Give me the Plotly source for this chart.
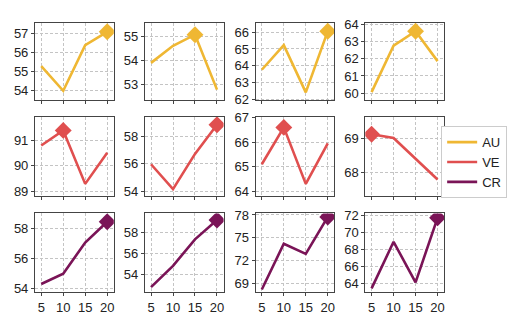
import plotly.graph_objects as go

x_vals = [5, 10, 15, 20]
x_ticks = [5, 10, 15, 20]
series_names = ["AU", "VE", "CR"]

AU = [[55.3, 54.0, 56.4, 57.1],
      [53.9, 54.62, 55.09, 52.77],
      [63.76, 65.23, 62.41, 66.06],
      [60.06, 62.75, 63.59, 61.86]]
VE = [[90.79, 91.38, 89.29, 90.51],
      [55.96, 54.16, 56.71, 58.82],
      [65.1, 66.6, 64.3, 65.95],
      [69.11, 69.0, 68.4, 67.8]]
CR = [[54.32, 55.0, 57.05, 58.42],
      [52.78, 54.83, 57.38, 59.23],
      [68.23, 74.23, 72.9, 77.74],
      [63.45, 68.9, 64.15, 71.7]]

AU_ticks = [[54, 55, 56, 57], [53, 54, 55], [62, 63, 64, 65, 66], [60, 61, 62, 63, 64]]
VE_ticks = [[89, 90, 91], [54, 56, 58], [64, 65, 66, 67], [68, 69]]
CR_ticks = [[54, 56, 58], [54, 56, 58], [69, 72, 75, 78], [64, 66, 68, 70, 72]]

# layout (not data)
W, H = 515, 315
col_px = [(27, 106), (137, 216), (248, 327), (358, 437)]
row_px = [(9, 90), (107, 190), (208, 290)]
y_ranges = [
    [[53.5, 57.58], [52.32, 55.6], [61.94, 66.57], [59.59, 64.09]],
    [[88.81, 91.92], [53.65, 59.41], [63.8, 67.04], [67.32, 69.62]],
    [[53.79, 58.97], [52.31, 59.87], [67.9, 78.2], [63.02, 72.22]],
]
x_range = [3.57, 21.5]
colors = ["#EFB733", "#E04F4F", "#7A1457"]

data = [AU, VE, CR]
ticks = [AU_ticks, VE_ticks, CR_ticks]

fig = go.Figure()
font = dict(family="Liberation Sans, Arial, sans-serif", size=13, color="#222")

for r in range(3):
    for c in range(4):
        idx = r * 4 + c + 1
        xa = "x" if idx == 1 else f"x{idx}"
        ya = "y" if idx == 1 else f"y{idx}"
        vals = data[r][c]
        fig.add_trace(go.Scatter(
            x=x_vals, y=vals, mode="lines",
            line=dict(color=colors[r], width=2.6),
            name=series_names[r], legendgroup=series_names[r],
            showlegend=(c == 0), xaxis=xa, yaxis=ya,
        ))
        m = max(range(len(vals)), key=lambda i: vals[i])
        fig.add_trace(go.Scatter(
            x=[x_vals[m]], y=[vals[m]], mode="markers",
            marker=dict(symbol="diamond", size=13, color=colors[r]),
            showlegend=False, legendgroup=series_names[r],
            xaxis=xa, yaxis=ya,
        ))
        x0, x1 = col_px[c]
        y0, y1 = row_px[r]
        common = dict(
            showline=True, linecolor="#444", linewidth=1, mirror=True,
            ticks="outside", ticklen=3, tickcolor="#444", tickwidth=1,
            showgrid=True, gridcolor="#c4c4c4", griddash="3px,2px", gridwidth=1,
            zeroline=False, tickfont=font,
        )
        fig.layout[("xaxis" if idx == 1 else f"xaxis{idx}")] = dict(
            domain=[x0 / W, x1 / W], anchor=ya, range=x_range,
            tickvals=x_ticks, showticklabels=(r == 2), **common,
        )
        fig.layout[("yaxis" if idx == 1 else f"yaxis{idx}")] = dict(
            domain=[1 - y1 / H, 1 - y0 / H], anchor=xa, range=y_ranges[r][c],
            tickvals=ticks[r][c], **common,
        )

fig.update_layout(
    width=W, height=H,
    margin=dict(l=0, r=0, t=0, b=0),
    paper_bgcolor="white", plot_bgcolor="white",
    font=font,
    legend=dict(
        x=434 / W, y=1 - 117 / H, xanchor="left", yanchor="top",
        bordercolor="#cccccc", borderwidth=1, bgcolor="white",
        font=dict(family="Liberation Sans, Arial, sans-serif", size=13, color="#222"),
        itemwidth=30, tracegroupgap=0,
    ),
)

fig.write_html("out.html")
